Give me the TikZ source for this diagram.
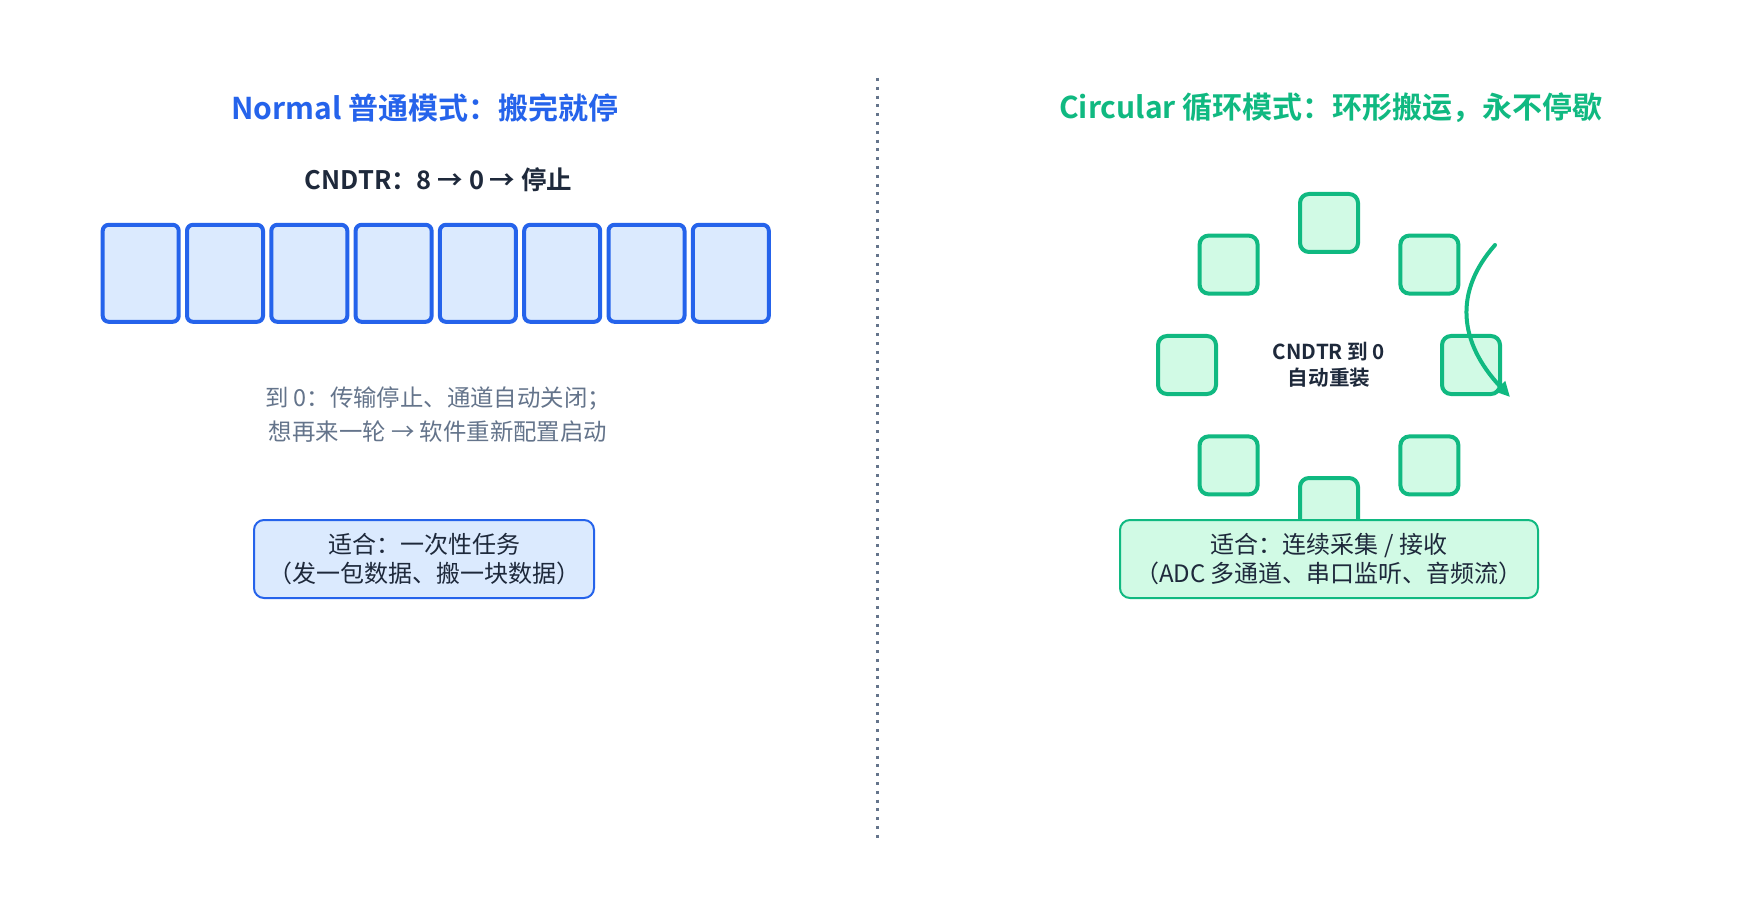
\documentclass[tikz,border=0pt]{standalone}
\usepackage{fontspec}
\setmainfont{Noto Sans CJK SC}[BoldFont={Noto Sans CJK SC Bold}]
\usetikzlibrary{arrows.meta,calc}
\definecolor{blu}{HTML}{2563EB}
\definecolor{blufill}{HTML}{DBEAFE}
\definecolor{grn}{HTML}{10B981}
\definecolor{grnfill}{HTML}{D1FAE5}
\definecolor{ink}{HTML}{1E293B}
\definecolor{slate}{HTML}{64748B}
\tikzset{
  cell/.style={draw=blu, fill=blufill, line width=4pt, rounded corners=6pt, minimum width=76pt, minimum height=97pt, inner sep=0pt},
  ring/.style={draw=grn, fill=grnfill, line width=4pt, rounded corners=9pt, minimum width=58pt, minimum height=58pt, inner sep=0pt},
  infobox/.style={line width=2pt, rounded corners=10pt, inner sep=0pt, align=center, text=ink, font=\fontsize{24pt}{29pt}\selectfont},
  titletext/.style={font=\bfseries\fontsize{30pt}{36pt}\selectfont, inner sep=0pt},
}
\begin{document}
\begin{tikzpicture}[x=1pt,y=-1pt]
\useasboundingbox (0,0) rectangle (1754,917);
\fill[white] (0,0) rectangle (1754,917);

% divider
\coordinate (dtop) at (877,78);
\coordinate (dbot) at (877,839);
\draw[slate, line width=3pt, dash pattern=on 3pt off 5.8pt] (dtop) -- (dbot);

% left panel
\node[titletext, text=blu] (ltitle) at (425,108) {Normal 普通模式：搬完就停};
\node[font=\bfseries\fontsize{25.5pt}{30pt}\selectfont, text=ink, inner sep=0pt] (cnt) at (438.5,180) {CNDTR：8 → 0 → 停止};
\foreach \i in {0,...,7} {
  \node[cell] (b\i) at ({140.7+84.3*\i},273.3) {};
}
\node[font=\fontsize{23.4pt}{34pt}\selectfont, text=slate, align=center, inner sep=0pt] (note) at (438,415) {到 0：传输停止、通道自动关闭；\\想再来一轮 → 软件重新配置启动};
\node[infobox, draw=blu, fill=blufill, minimum width=340pt, minimum height=78pt] (lfit) at (424,559) {适合：一次性任务\\（发一包数据、搬一块数据）};

% right panel
\node[titletext, text=grn] (rtitle) at (1331,108) {Circular 循环模式：环形搬运，永不停歇};
\coordinate (ctr) at (1329,365);
\foreach \a in {0,45,...,315} {
  \node[ring] (r\a) at ($(ctr)+(\a:142)$) {};
}
\node[font=\bfseries\fontsize{20.6pt}{26pt}\selectfont, text=ink, align=center, inner sep=0pt] (ctext) at (ctr) {CNDTR 到 0\\自动重装};
\coordinate (as) at (1495,245);
\coordinate (ae) at (1510,397);
\draw[grn, line width=4pt, line cap=round, -{Triangle[length=15pt,width=14pt]}] (as) .. controls (1453.7,291.7) and (1458.7,342.3) .. (ae);
\node[infobox, draw=grn, fill=grnfill, minimum width=418pt, minimum height=78pt] (rfit) at (1329,559) {适合：连续采集 / 接收\\（ADC 多通道、串口监听、音频流）};
\end{tikzpicture}
\end{document}
